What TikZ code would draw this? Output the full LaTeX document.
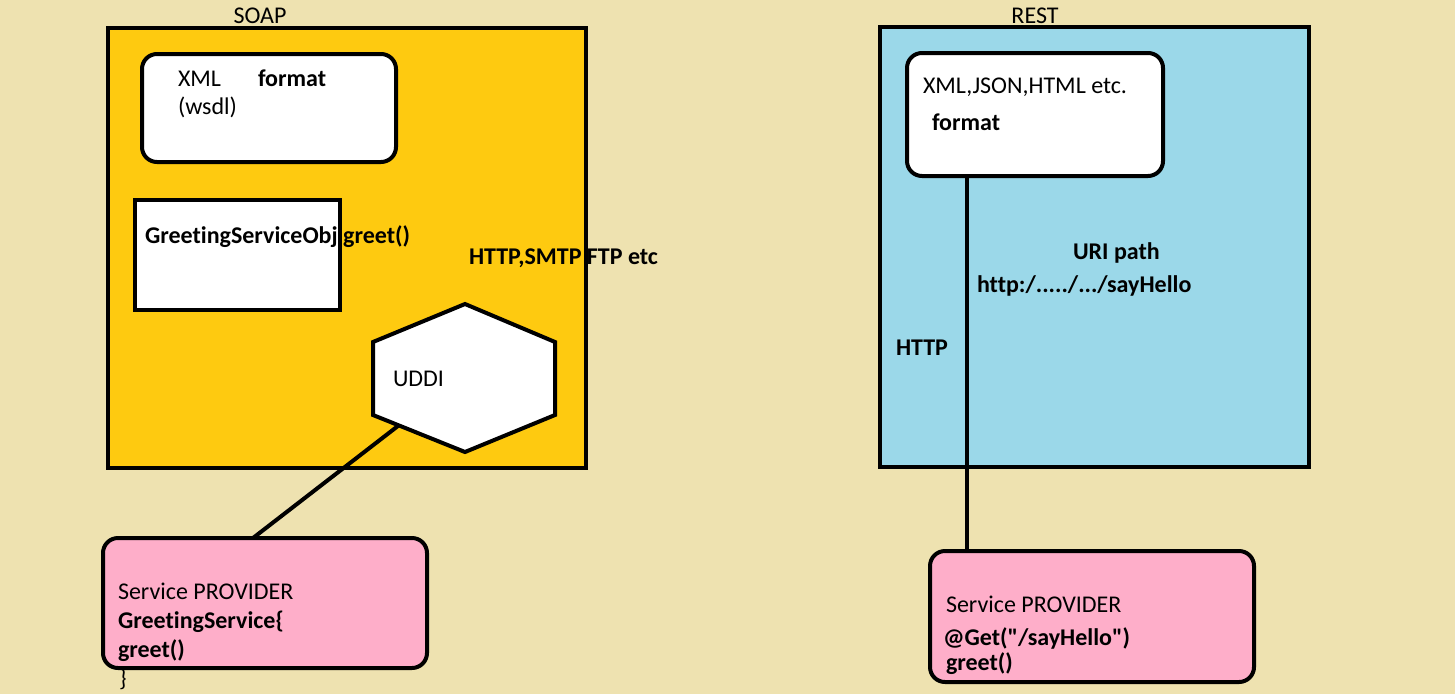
\documentclass[tikz,border=0pt]{standalone}
\usepackage{fontspec}
\setmainfont{Carlito}[Ligatures={TeXOff,CommonOff}]
\usetikzlibrary{calc}
\definecolor{bgtan}{RGB}{238,226,176}
\definecolor{soapyellow}{RGB}{254,202,16}
\definecolor{restblue}{RGB}{155,216,233}
\definecolor{provpink}{RGB}{254,174,201}
\begin{document}
\begin{tikzpicture}[x=1pt,y=-1pt,
  every node/.style={inner sep=0pt, outer sep=0pt},
  lbl/.style={font=\fontsize{24}{29}\selectfont, anchor=base west},
  blbl/.style={font=\fontsize{24}{29}\selectfont\bfseries, anchor=base west},
  ttl/.style={font=\fontsize{24}{29}\selectfont, anchor=base},
  frame/.style={draw=black, line width=4pt, anchor=north west},
  rbox/.style={frame, rounded corners=15pt},
  wire/.style={draw=black, line width=4pt}]
\useasboundingbox (0,0) rectangle (1455,694);
\fill[bgtan] (0,0) rectangle (1455,694);

% ---------- SOAP ----------
\node[ttl] (soaptitle) at (260,23) {SOAP};
\node[frame, fill=soapyellow, minimum width=478pt, minimum height=440pt] (soap) at (108,28) {};
\node[rbox, fill=white, minimum width=254pt, minimum height=108pt] (soapfmt) at (142,54) {};
\node[lbl] (xml) at (178,86) {XML};
\node[blbl] (fmt1) at (258,86) {format};
\node[lbl] (wsdl) at (178,114) {(wsdl)};
\node[frame, fill=white, minimum width=205pt, minimum height=110pt] (gsobj) at (135,200) {};
\node[blbl] (gsobjtxt) at (145,243) {GreetingServiceObj greet()};
\node[blbl] (proto) at (469,264) {HTTP,SMTP FTP etc};

\coordinate (hext) at (465,304);
\coordinate (hexur) at (555,342);
\coordinate (hexlr) at (555,415);
\coordinate (hexb) at (465,452);
\coordinate (hexll) at (373,415);
\coordinate (hexul) at (373,342);
\draw[line width=4pt, fill=white, line join=miter] (hext) -- (hexur) -- (hexlr) -- (hexb) -- (hexll) -- (hexul) -- cycle;
\node[lbl] (uddi) at (393,386) {UDDI};
\coordinate (uddiport) at ($(hexll)!0.28!(hexb)$);

\node[rbox, fill=provpink, minimum width=324pt, minimum height=130pt] (soapprov) at (103,538) {};
\coordinate (soapprovtop) at ($(soapprov.north west)!0.463!(soapprov.north east)$);
\draw[wire] (uddiport) -- (soapprovtop);
\node[lbl] (sp1) at (118,599) {Service PROVIDER};
\node[blbl] (sp2) at (118,628) {GreetingService\{};
\node[blbl] (sp3) at (118,657) {greet()};
\node[lbl] (sp4) at (119,686) {\}};

% ---------- REST ----------
\node[ttl] (resttitle) at (1035,23) {REST};
\node[frame, fill=restblue, minimum width=429pt, minimum height=440pt] (rest) at (880,27) {};
\node[rbox, fill=white, minimum width=256pt, minimum height=123pt] (restfmt) at (907,53) {};
\node[lbl] (formats) at (923,93) {XML,JSON,HTML etc.};
\node[blbl] (fmt2) at (932,130) {format};
\node[blbl] (uri) at (1073,259) {URI path};
\node[blbl] (url) at (977,292) {http:/...../.../sayHello};
\node[blbl] (http) at (896,355) {HTTP};

\node[rbox, fill=provpink, minimum width=324pt, minimum height=131pt] (restprov) at (930,551) {};
\coordinate (httpx) at (967,300);
\draw[wire] (httpx |- restfmt.south) -- (httpx |- restprov.north);
\node[lbl] (rp1) at (946,612) {Service PROVIDER};
\node[blbl] (rp2) at (943,645) {@Get("/sayHello")};
\node[blbl] (rp3) at (946,670) {greet()};
\end{tikzpicture}
\end{document}
